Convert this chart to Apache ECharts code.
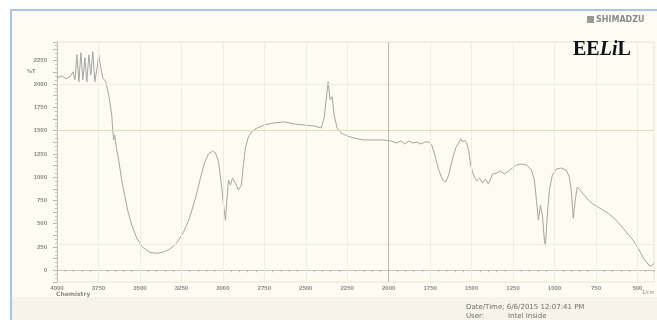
<!DOCTYPE html>
<html>
<head>
<meta charset="utf-8">
<script src="https://cdn.jsdelivr.net/npm/echarts@6/dist/echarts.min.js"></script>
<style>
  html, body { margin: 0; padding: 0; background: #ffffff; }
  #chart { width: 657px; height: 320px; }
</style>
</head>
<body>
<div id="chart"></div>
<script>
// FTIR transmittance spectrum (Shimadzu printout)
const wavenumbers = [
  4000, 3970, 3946, 3922, 3904, 3892, 3880, 3868, 3856, 3844, 3832, 3820, 3808, 3796, 3784, 3772,
  3760, 3748, 3736, 3724, 3706, 3688, 3670, 3664, 3658, 3652, 3640, 3628, 3610, 3592, 3574, 3549,
  3519, 3483, 3441, 3399, 3363, 3321, 3279, 3237, 3201, 3165, 3135, 3111, 3087, 3062, 3044, 3026,
  3008, 2996, 2984, 2978, 2966, 2954, 2942, 2924, 2906, 2888, 2876, 2864, 2846, 2822, 2792, 2750,
  2690, 2630, 2570, 2510, 2449, 2407, 2389, 2377, 2365, 2353, 2341, 2329, 2311, 2287, 2251, 2209,
  2149, 2089, 2029, 1987, 1951, 1927, 1903, 1878, 1854, 1830, 1806, 1782, 1758, 1740, 1722, 1698,
  1674, 1656, 1638, 1614, 1596, 1578, 1566, 1554, 1542, 1530, 1518, 1506, 1488, 1470, 1452, 1434,
  1416, 1398, 1374, 1350, 1326, 1302, 1278, 1254, 1230, 1199, 1169, 1139, 1121, 1109, 1097, 1085,
  1073, 1061, 1055, 1043, 1031, 1013, 989, 959, 929, 911, 899, 887, 875, 863, 845, 821,
  795, 767, 737, 707, 677, 647, 617, 586, 556, 526, 496, 466, 436, 418, 400
];
const transmittance = [
  2066, 2087, 2055, 2077, 2130, 2044, 2313, 2023, 2335, 2044, 2281, 2023, 2313, 2098, 2346, 2023,
  2152, 2313, 2174, 2066, 2023, 1883, 1668, 1506, 1399, 1453, 1291, 1184, 968, 807, 646, 484,
  344, 247, 194, 183, 194, 226, 291, 409, 560, 775, 990, 1151, 1248, 1280, 1259, 1162,
  915, 699, 538, 699, 968, 915, 990, 936, 861, 915, 1130, 1313, 1431, 1496, 1528, 1560,
  1582, 1593, 1571, 1560, 1549, 1528, 1636, 1829, 2023, 1829, 1862, 1668, 1528, 1474, 1442, 1420,
  1399, 1399, 1399, 1388, 1366, 1388, 1356, 1388, 1366, 1377, 1356, 1377, 1377, 1345, 1237, 1076,
  968, 947, 1022, 1205, 1313, 1366, 1410, 1377, 1399, 1366, 1291, 1130, 1022, 958, 990, 936,
  979, 925, 1033, 1044, 1065, 1033, 1065, 1098, 1130, 1141, 1130, 1076, 968, 753, 538, 699,
  592, 323, 269, 592, 861, 1022, 1087, 1098, 1076, 1001, 861, 560, 753, 893, 861, 807,
  753, 710, 678, 646, 613, 570, 516, 452, 387, 323, 237, 140, 65, 43, 75
];
// Axis ranges and printed gridlines
const xRange = [400, 4000];
const yRange = [-125, 2450];
const xGridLines = [3750, 3500, 3250, 3000, 2750, 2500, 2250, 1750, 1500, 1250, 1000, 750, 500];
const yGridLines = [2000, 280];
const strongXLine = 2000;
const strongYLine = 1500;

const spectrum = wavenumbers.map((w, i) => [w, transmittance[i]]);

const chart = echarts.init(document.getElementById('chart'), null, { renderer: 'canvas' });

const labelColor = '#8a8a84';
const faint = '#efeedb';

chart.setOption({
  animation: false,
  backgroundColor: '#ffffff',
  graphic: [
    // paper sheet with blue frame
    { type: 'rect', z: -10, shape: { x: 11, y: 10, width: 660, height: 320 },
      style: { fill: '#fcfcf3', stroke: '#a9c4e4', lineWidth: 2 } },
    { type: 'rect', z: -9, shape: { x: 12, y: 297, width: 660, height: 30 },
      style: { fill: '#f5f4ea' } },
    // SHIMADZU logo
    { type: 'rect', shape: { x: 587, y: 16, width: 7, height: 7 },
      style: { fill: '#9a9a94' } },
    { type: 'text', style: { x: 596, y: 20, text: 'SHIMADZU', fill: '#8a8a84',
      font: 'bold 8px "DejaVu Sans"', verticalAlign: 'middle' } },
    { type: 'text', style: { x: 27, y: 72, text: '%T', fill: labelColor,
      font: 'bold 5px "DejaVu Sans"', verticalAlign: 'middle' } },
    { type: 'text', style: { x: 56, y: 294, text: 'Chemistry', fill: labelColor,
      font: 'bold 6px "DejaVu Sans"', verticalAlign: 'middle' } },
    { type: 'text', style: { x: 642, y: 293, text: '1/cm', fill: labelColor,
      font: '5px "DejaVu Sans"', verticalAlign: 'middle' } },
    { type: 'text', style: { x: 466, y: 307, text: 'Date/Time; 6/6/2015 12:07:41 PM', fill: '#6e6e68',
      font: '7px "DejaVu Sans"', verticalAlign: 'middle' } },
    { type: 'text', style: { x: 466, y: 316, text: 'User:', fill: '#6e6e68',
      font: '7px "DejaVu Sans"', verticalAlign: 'middle' } },
    { type: 'text', style: { x: 508, y: 316, text: 'Intel Inside', fill: '#6e6e68',
      font: '7px "DejaVu Sans"', verticalAlign: 'middle' } }
  ],
  title: {
    text: '{b|EE}{i|Li}{b|L}',
    left: 573, top: 40, padding: 0,
    textStyle: {
      rich: {
        b: { fontFamily: '"Liberation Serif"', fontWeight: 'bold', fontSize: 20, color: '#111' },
        i: { fontFamily: '"Liberation Serif"', fontWeight: 'bold', fontStyle: 'italic', fontSize: 20, color: '#111' }
      }
    }
  },
  grid: { left: 57, right: 1, top: 42, bottom: 38, show: true, borderColor: '#e6e5cf', borderWidth: 1 },
  xAxis: {
    type: 'value', inverse: true, min: xRange[0], max: xRange[1], interval: 50,
    axisLine: { lineStyle: { color: '#c4c4bc', width: 1 } },
    axisTick: { show: true, length: 2, lineStyle: { color: '#b8b8b0' } },
    splitLine: { show: false },
    axisLabel: {
      color: labelColor, fontSize: 6, fontWeight: 'bold', margin: 3, showMaxLabel: true,
      formatter: v => (v % 250 === 0 ? String(v) : '')
    }
  },
  yAxis: {
    type: 'value', min: yRange[0], max: yRange[1], interval: 125,
    axisLine: { show: true, lineStyle: { color: '#c4c4bc' } },
    axisTick: { show: true, length: 4, lineStyle: { color: '#b8b8b0' } },
    minorTick: { show: true, splitNumber: 3, length: 2, lineStyle: { color: '#c4c4bc' } },
    splitLine: { show: false },
    axisLabel: {
      color: labelColor, fontSize: 6, fontWeight: 'bold', margin: 10,
      formatter: v => (v >= 0 && v <= 2250 && v % 250 === 0 ? String(v) : '')
    }
  },
  series: [{
    type: 'line',
    data: spectrum,
    showSymbol: false,
    smooth: false,
    lineStyle: { color: '#a6a6a0', width: 1 },
    markLine: {
      silent: true, symbol: 'none', label: { show: false },
      lineStyle: { type: 'solid', color: faint, width: 1 },
      data: [
        ...xGridLines.map(v => ({ xAxis: v })),
        ...yGridLines.map(v => ({ yAxis: v })),
        { yAxis: strongYLine, lineStyle: { color: '#dddbbb', width: 1 } },
        { xAxis: strongXLine, lineStyle: { color: '#b8b8b2', width: 1 } }
      ]
    },
    z: 3
  }]
});
</script>
</body>
</html>
